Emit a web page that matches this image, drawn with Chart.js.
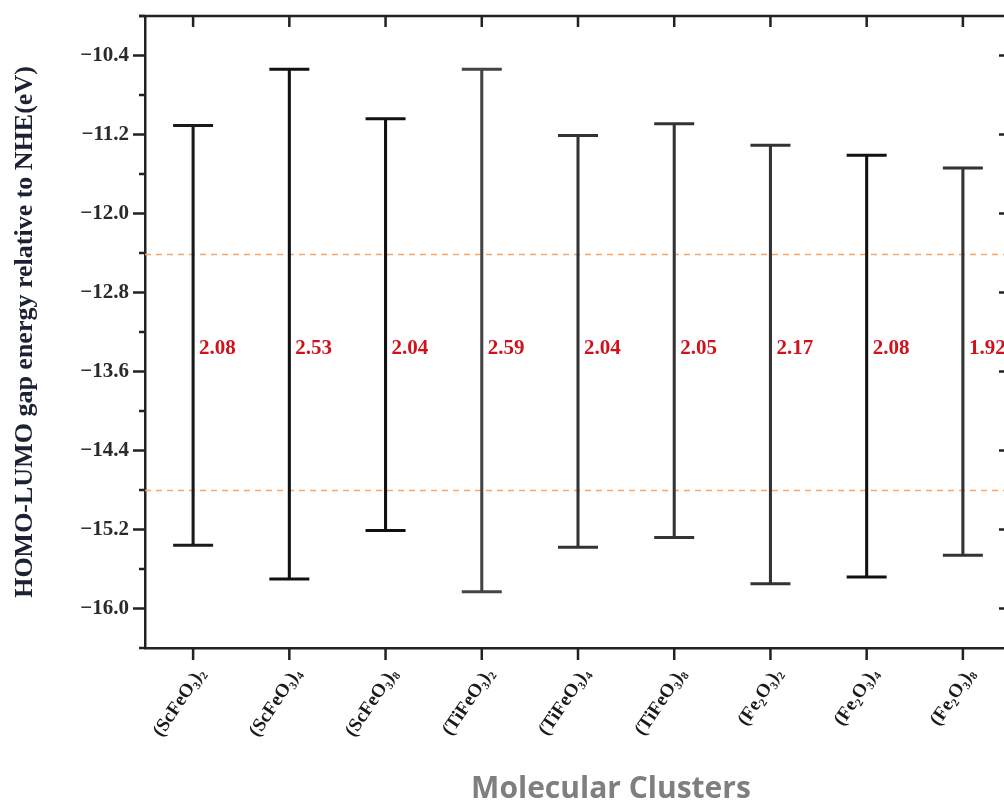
<!DOCTYPE html>
<html>
<head>
<meta charset="utf-8">
<script src="https://cdn.jsdelivr.net/npm/chart.js@4.4.0/dist/chart.umd.min.js"></script>
<style>
  html, body { margin: 0; padding: 0; background: #fff; overflow: hidden; }
  canvas { display: block; }
</style>
</head>
<body>
<canvas id="gapChart" width="1020" height="802"></canvas>
<script>
// cluster names on the x axis
const clusters = ['(ScFeO₃)₂', '(ScFeO₃)₄', '(ScFeO₃)₈', '(TiFeO₃)₂', '(TiFeO₃)₄', '(TiFeO₃)₈', '(Fe₂O₃)₂', '(Fe₂O₃)₄', '(Fe₂O₃)₈'];
// lower and upper end of each bar (eV vs NHE)
const homoLevels = [-15.36, -15.70, -15.21, -15.83, -15.38, -15.28, -15.75, -15.68, -15.46];
const lumoLevels = [-11.11, -10.54, -11.04, -10.54, -11.21, -11.09, -11.31, -11.41, -11.54];
// gap values printed beside each bar
const gapLabels = ['2.08', '2.53', '2.04', '2.59', '2.04', '2.05', '2.17', '2.08', '1.92'];
// dashed reference levels
const referenceLevels = [-12.41, -14.80];
// y axis range and tick step
const yMin = -16.4;
const yMax = -10.0;
const yStep = 0.4;

const stemColors = ['#1a1a1a', '#111', '#111', '#444', '#333', '#333', '#333', '#111', '#333'];
const LABEL_LEVEL = -13.37;
const AXIS_COLOR = '#222';
const AXIS_WIDTH = 2.5;
const SERIF = '"Liberation Serif", "Times New Roman", serif';

const isMajor = (v) => Math.abs(Math.round((v + 16.0) / 0.8) - (v + 16.0) / 0.8) < 1e-6;

// frame, tick marks, reference lines and gap labels
const decorations = {
  id: 'decorations',
  beforeDatasetsDraw(chart) {
    const { ctx, chartArea: a, scales: { y } } = chart;
    ctx.save();
    ctx.strokeStyle = '#f4a76b';
    ctx.lineWidth = 1.6;
    ctx.setLineDash([6, 5]);
    referenceLevels.forEach(v => {
      const py = Math.round(y.getPixelForValue(v)) + 0.5;
      ctx.beginPath();
      ctx.moveTo(a.left, py);
      ctx.lineTo(a.right, py);
      ctx.stroke();
    });
    ctx.restore();
  },
  afterDraw(chart) {
    const { ctx, chartArea: a, scales: { x, y } } = chart;
    ctx.save();
    ctx.strokeStyle = AXIS_COLOR;
    ctx.lineWidth = AXIS_WIDTH;
    // top and right edges of the frame
    ctx.beginPath();
    ctx.moveTo(a.left - 6, a.top);
    ctx.lineTo(a.right, a.top);
    ctx.lineTo(a.right, a.bottom);
    ctx.stroke();

    // y ticks: outward on the left, inward on the right
    y.ticks.forEach(t => {
      const py = y.getPixelForValue(t.value);
      const len = isMajor(t.value) ? 12 : 6;
      ctx.beginPath();
      ctx.moveTo(a.left - len, py);
      ctx.lineTo(a.left, py);
      ctx.moveTo(a.right, py);
      ctx.lineTo(a.right - len, py);
      ctx.stroke();
    });
    // x ticks: outward at the bottom, inward at the top
    clusters.forEach((c, i) => {
      const px = x.getPixelForValue(i);
      ctx.beginPath();
      ctx.moveTo(px, a.bottom);
      ctx.lineTo(px, a.bottom + 12);
      ctx.moveTo(px, a.top);
      ctx.lineTo(px, a.top + 11);
      ctx.stroke();
    });

    // gap values in red
    ctx.fillStyle = '#d0121c';
    ctx.font = 'bold 21px ' + SERIF;
    ctx.textAlign = 'left';
    ctx.textBaseline = 'middle';
    gapLabels.forEach((g, i) => {
      ctx.fillText(g, x.getPixelForValue(i) + 6, y.getPixelForValue(LABEL_LEVEL));
    });

    // x axis title
    ctx.fillStyle = '#7f7f7f';
    ctx.font = 'bold 30px "Open Sans", sans-serif';
    ctx.textAlign = 'center';
    ctx.textBaseline = 'alphabetic';
    ctx.fillText('Molecular Clusters', (a.left + a.right) / 2 + 33, 798);
    ctx.restore();
  }
};

new Chart(document.getElementById('gapChart'), {
  type: 'bar',
  data: {
    labels: clusters,
    datasets: [
      {
        label: 'gap',
        data: clusters.map((c, i) => [homoLevels[i], lumoLevels[i]]),
        backgroundColor: stemColors,
        barThickness: 2.4,
        order: 2
      },
      {
        type: 'line',
        label: 'upper',
        data: lumoLevels,
        showLine: false,
        pointStyle: 'line',
        pointRadius: 20,
        pointBorderWidth: 3,
        pointBorderColor: stemColors,
        order: 1
      },
      {
        type: 'line',
        label: 'lower',
        data: homoLevels,
        showLine: false,
        pointStyle: 'line',
        pointRadius: 20,
        pointBorderWidth: 3,
        pointBorderColor: stemColors,
        order: 1
      }
    ]
  },
  options: {
    responsive: false,
    animation: false,
    events: [],
    // the wide caps would otherwise add automatic padding round the plot
    layout: { autoPadding: false, padding: { top: 16, right: 9, left: 0, bottom: 0 } },
    plugins: {
      legend: { display: false },
      tooltip: { enabled: false }
    },
    scales: {
      x: {
        afterFit: (s) => {
          s.height = 154;
          s.paddingLeft = 0;
          s.paddingRight = 0;
        },
        border: { display: true, color: AXIS_COLOR, width: AXIS_WIDTH },
        grid: { display: true, drawOnChartArea: false, drawTicks: true, tickLength: 12, tickColor: 'transparent', offset: false },
        ticks: {
          color: '#1a1a1a',
          font: { family: SERIF, size: 19, weight: 'bold' },
          minRotation: 56,
          maxRotation: 56,
          labelOffset: 8,
          padding: 4,
          autoSkip: false
        }
      },
      y: {
        min: yMin,
        max: yMax,
        afterFit: (s) => {
          s.width = 145;
          s.paddingTop = 0;
          s.paddingBottom = 0;
        },
        border: { display: true, color: AXIS_COLOR, width: AXIS_WIDTH },
        grid: { display: true, drawOnChartArea: false, drawTicks: true, tickLength: 12, tickColor: 'transparent' },
        title: {
          display: true,
          text: 'HOMO-LUMO gap energy relative to NHE(eV)',
          color: '#1c2233',
          font: { family: SERIF, size: 26, weight: 'bold' },
          padding: { top: 10, bottom: 0 }
        },
        ticks: {
          stepSize: yStep,
          color: '#2a2a2a',
          font: { family: SERIF, size: 21, weight: 'bold' },
          padding: 4,
          callback: (v) => isMajor(v) ? '\u2212' + Math.abs(v).toFixed(1) : ''
        }
      }
    }
  },
  plugins: [decorations]
});
</script>
</body>
</html>
